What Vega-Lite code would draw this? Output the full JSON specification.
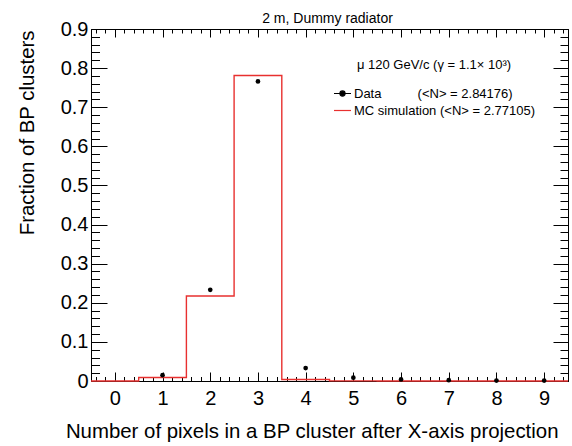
{
  "$schema": "https://vega.github.io/schema/vega-lite/v6.json",
  "width": 477,
  "height": 352,
  "autosize": "none",
  "padding": {"left": 91, "top": 29, "right": 4, "bottom": 65},
  "background": "white",
  "title": {"text": "2 m, Dummy radiator", "fontSize": 14, "fontWeight": "normal", "font": "Liberation Sans", "color": "black", "anchor": "middle", "frame": "group", "baseline": "alphabetic", "offset": -18, "dx": -2},
  "config": {
    "view": {"stroke": "black", "strokeWidth": 1},
    "font": "Liberation Sans",
    "axis": {"domainColor": "black", "tickColor": "black", "labelColor": "black", "titleColor": "black", "labelFont": "Liberation Sans", "titleFont": "Liberation Sans", "grid": false, "labelOverlap": false, "labelFlush": false, "labelBound": false}
  },
  "datasets": {
    "mc": [
      {"x": -0.5, "v": 0},
      {"x": 0.5, "v": 0.009},
      {"x": 1.5, "v": 0.2175},
      {"x": 2.5, "v": 0.781},
      {"x": 3.5, "v": 0.004},
      {"x": 4.5, "v": 0.0003},
      {"x": 5.5, "v": 0},
      {"x": 6.5, "v": 0},
      {"x": 7.5, "v": 0},
      {"x": 8.5, "v": 0},
      {"x": 9.5, "v": 0}
    ],
    "pts": [
      {"n": 1, "f": 0.015},
      {"n": 2, "f": 0.233},
      {"n": 3, "f": 0.766},
      {"n": 4, "f": 0.033},
      {"n": 5, "f": 0.0085},
      {"n": 6, "f": 0.004},
      {"n": 7, "f": 0.002},
      {"n": 8, "f": 0.001},
      {"n": 9, "f": 0.001}
    ]
  },
  "layer": [
    {
      "data": {"name": "mc"},
      "mark": {"type": "line", "interpolate": "step-after", "strokeWidth": 1.4},
      "encoding": {
        "x": {
          "field": "x", "type": "quantitative",
          "scale": {"domain": [-0.5, 9.5], "nice": false, "zero": false},
          "axis": {
            "orient": "bottom",
            "values": [-0.4,-0.2,0,0.2,0.4,0.6,0.8,1,1.2,1.4,1.6,1.8,2,2.2,2.4,2.6,2.8,3,3.2,3.4,3.6,3.8,4,4.2,4.4,4.6,4.8,5,5.2,5.4,5.6,5.8,6,6.2,6.4,6.6,6.8,7,7.2,7.4,7.6,7.8,8,8.2,8.4,8.6,8.8,9,9.2,9.4],
            "labelExpr": "abs(datum.value - round(datum.value)) < 0.001 ? '' + round(datum.value) : ''",
            "tickSize": {"condition": {"test": "abs(datum.value - round(datum.value)) < 0.001", "value": -9}, "value": -4.5},
            "labelFontSize": 20,
            "labelPadding": 16,
            "title": "Number of pixels in a BP cluster after X-axis projection",
            "titleFontSize": 20.4,
            "titleFontWeight": "normal",
            "titleAlign": "right",
            "titleBaseline": "alphabetic",
            "titleX": 467,
            "titleY": 56
          }
        },
        "y": {
          "field": "v", "type": "quantitative",
          "scale": {"domain": [0, 0.9], "nice": false, "zero": false},
          "axis": {
            "orient": "left",
            "values": [0,0.02,0.04,0.06,0.08,0.1,0.12,0.14,0.16,0.18,0.2,0.22,0.24,0.26,0.28,0.3,0.32,0.34,0.36,0.38,0.4,0.42,0.44,0.46,0.48,0.5,0.52,0.54,0.56,0.58,0.6,0.62,0.64,0.66,0.68,0.7,0.72,0.74,0.76,0.78,0.8,0.82,0.84,0.86,0.88,0.9],
            "labelExpr": "abs(datum.value*10 - round(datum.value*10)) < 0.001 ? (datum.value < 0.001 ? '0' : format(datum.value, '.1f')) : ''",
            "tickSize": {"condition": {"test": "abs(datum.value*10 - round(datum.value*10)) < 0.001", "value": -16}, "value": -8.5},
            "labelFontSize": 20,
            "labelPadding": 19,
            "title": "Fraction of BP clusters",
            "titleFontSize": 20.4,
            "titleFontWeight": "normal",
            "titleAngle": -90,
            "titleAlign": "right",
            "titleBaseline": "alphabetic",
            "titleX": -58,
            "titleY": 1
          }
        },
        "color": {
          "datum": "MC simulation (<N> = 2.77105)",
          "type": "nominal",
          "scale": {"domain": ["Data\u00a0\u00a0\u00a0\u00a0\u00a0\u00a0\u00a0\u00a0\u00a0\u00a0(<N> = 2.84176)", "MC simulation (<N> = 2.77105)"], "range": ["black", "#e8302f"]},
          "legend": {
            "orient": "none",
            "legendX": 242,
            "legendY": 30,
            "title": "\u03bc 120 GeV/c (\u03b3 = 1.1\u00d7 10\u00b3)",
            "titleFont": "Liberation Sans",
            "titleFontSize": 13,
            "titleFontWeight": "normal",
            "titleColor": "black",
            "titleAnchor": "middle",
            "titlePadding": 12,
            "titleLimit": 400,
            "labelFont": "Liberation Sans",
            "labelFontSize": 13,
            "labelColor": "black",
            "labelOffset": 2,
            "labelLimit": 400,
            "rowPadding": 0,
            "symbolSize": 289,
            "symbolStrokeWidth": 1.2,
            "encode": {
              "symbols": {
                "update": {
                  "shape": [{"test": "datum.index === 0", "value": "M-1,0H1M-0.3,0A0.3,0.3 0 1,0 0.3,0A0.3,0.3 0 1,0 -0.3,0Z"}, {"value": "stroke"}],
                  "fill": [{"test": "datum.index === 0", "value": "black"}, {"value": "transparent"}],
                  "stroke": [{"test": "datum.index === 0", "value": "black"}, {"value": "#e8302f"}],
                  "opacity": {"value": 1}
                }
              }
            }
          }
        }
      }
    },
    {
      "data": {"name": "pts"},
      "mark": {"type": "point", "filled": true, "size": 22, "opacity": 1},
      "encoding": {
        "x": {
          "field": "n", "type": "quantitative",
          "scale": {"domain": [-0.5, 9.5], "nice": false, "zero": false},
          "axis": {
            "orient": "top",
            "values": [-0.4,-0.2,0,0.2,0.4,0.6,0.8,1,1.2,1.4,1.6,1.8,2,2.2,2.4,2.6,2.8,3,3.2,3.4,3.6,3.8,4,4.2,4.4,4.6,4.8,5,5.2,5.4,5.6,5.8,6,6.2,6.4,6.6,6.8,7,7.2,7.4,7.6,7.8,8,8.2,8.4,8.6,8.8,9,9.2,9.4],
            "labels": false,
            "title": null,
            "tickSize": {"condition": {"test": "abs(datum.value - round(datum.value)) < 0.001", "value": -8}, "value": -4}
          }
        },
        "y": {
          "field": "f", "type": "quantitative",
          "scale": {"domain": [0, 0.9], "nice": false, "zero": false},
          "axis": {
            "orient": "right",
            "values": [0,0.02,0.04,0.06,0.08,0.1,0.12,0.14,0.16,0.18,0.2,0.22,0.24,0.26,0.28,0.3,0.32,0.34,0.36,0.38,0.4,0.42,0.44,0.46,0.48,0.5,0.52,0.54,0.56,0.58,0.6,0.62,0.64,0.66,0.68,0.7,0.72,0.74,0.76,0.78,0.8,0.82,0.84,0.86,0.88,0.9],
            "labels": false,
            "title": null,
            "tickSize": {"condition": {"test": "abs(datum.value*10 - round(datum.value*10)) < 0.001", "value": -15}, "value": -8}
          }
        },
        "color": {"datum": "Data\u00a0\u00a0\u00a0\u00a0\u00a0\u00a0\u00a0\u00a0\u00a0\u00a0(<N> = 2.84176)", "type": "nominal"}
      }
    }
  ],
  "resolve": {"axis": {"x": "independent", "y": "independent"}}
}
